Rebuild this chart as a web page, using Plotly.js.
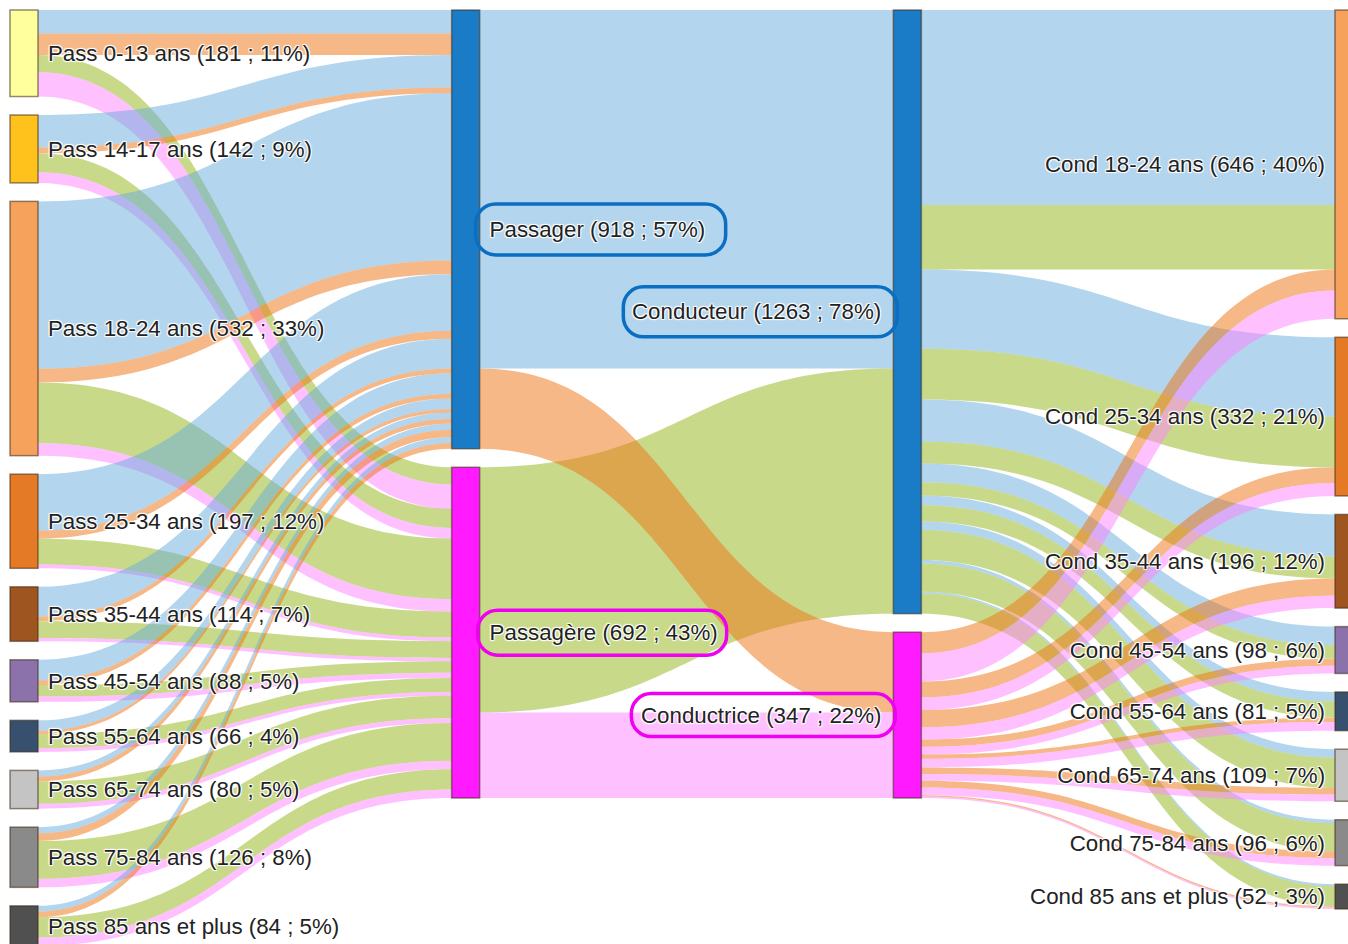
<!DOCTYPE html>
<html><head><meta charset="utf-8">
<script src="https://cdn.plot.ly/plotly-3.0.1.min.js"></script>
<style>html,body{margin:0;padding:0;overflow:hidden;background:#fff}</style>
</head><body><div id="chart" style="width:1373px;height:956px"></div>
<script>
// ---------- DATA ----------
const passLabels = ['Pass 0-13 ans','Pass 14-17 ans','Pass 18-24 ans','Pass 25-34 ans','Pass 35-44 ans','Pass 45-54 ans','Pass 55-64 ans','Pass 65-74 ans','Pass 75-84 ans','Pass 85 ans et plus'];
const passTotals = [181,142,532,197,114,88,66,80,126,84];
const sexLabels = ['Passager','Passagère'];
const sexTotals = [918,692];
const driverLabels = ['Conducteur','Conductrice'];
const driverTotals = [1263,347];
const condLabels = ['Cond 18-24 ans','Cond 25-34 ans','Cond 35-44 ans','Cond 45-54 ans','Cond 55-64 ans','Cond 65-74 ans','Cond 75-84 ans','Cond 85 ans et plus'];
const condTotals = [646,332,196,98,81,109,96,52];
const grandTotal = 1610;

// passenger age -> passenger sex, split by (passenger sex, driver sex)
const passH_condH = [49,68,350,118,62,43,22,13,13,12];   // Passager, Conducteur
const passH_condF = [45,12,29,17,10,10,7,10,16,12];      // Passager, Conductrice
const passF_condH = [36,40,127,54,35,24,29,47,79,42];    // Passagère, Conducteur
const passF_condF = [51,22,26,8,7,11,8,10,18,18];        // Passagère, Conductrice

// passenger sex -> driver sex : [H->H, F->H, H->F, F->F]
const midFlows = { HH: 750, FH: 513, HF: 168, FF: 179 };

// driver sex -> driver age
const condAge_passH_condH = [408,166,88,39,20,18,7,4];
const condAge_passF_condH = [135,106,46,28,34,63,59,42];
const condAge_passH_condF = [44,33,36,15,9,14,14,3];
const condAge_passF_condF = [59,27,26,16,18,14,16,3];

// ---------- STYLE ----------
const passColors = ['#ffff9e','#ffc21c','#f7a25c','#e57a26','#9e5520','#8c72ab','#36506e','#c4c4c4','#8a8a8a','#505050'];
const condColors = passColors.slice(2);
const blueNode = '#1a7cc6', pinkNode = '#ff1aff';
const cBlue = 'rgba(103,171,219,0.5)', cOrange = 'rgba(237,113,15,0.5)', cGreen = 'rgba(145,181,21,0.5)', cPink = 'rgba(255,129,255,0.5)';
const FONT = 'Liberation Sans, Arial, sans-serif', FS = 22.3;
const SH = '1px 1px 1px #fff, -1px -1px 1px #fff, 1px -1px 1px #fff, -1px 1px 1px #fff';

const W = 1353, H = 936, TH = 28, PAD = 18.5;
const ky = (H - (passTotals.length - 1) * PAD) / grandTotal;
function centers(vals) { let y = 0; return vals.map(v => { const h = v * ky; const c = y + h / 2; y += h + PAD; return c / H; }); }
function xc(col) { return (TH / 2 + col * (W - TH) / 3) / W; }
const pct = v => Math.round(v / grandTotal * 100) + '%';
const lab = (n, v) => n + ' (' + v + ' ; ' + pct(v) + ')';
const NB = '\u00a0';

const labels = [].concat(
  passLabels.map((n, i) => NB + lab(n, passTotals[i])),
  sexLabels.map((n, i) => NB + lab(n, sexTotals[i])),
  driverLabels.map(() => ''),
  condLabels.map((n, i) => lab(n, condTotals[i]) + NB));
const colors = [].concat(passColors, [blueNode, pinkNode, blueNode, pinkNode], condColors);
const nx = [].concat(passTotals.map(() => xc(0)), [xc(1), xc(1)], [xc(2), xc(2)], condTotals.map(() => xc(3)));
const ny = [].concat(centers(passTotals), centers(sexTotals), centers(driverTotals), centers(condTotals));

const src = [], tgt = [], val = [], lcol = [];
function add(s, t, v, c) { src.push(s); tgt.push(t); val.push(v); lcol.push(c); }
const P0 = 10, D0 = 12, C0 = 14;
passTotals.forEach((_, i) => {
  add(i, P0, passH_condH[i], cBlue);
  add(i, P0, passH_condF[i], cOrange);
  add(i, P0 + 1, passF_condH[i], cGreen);
  add(i, P0 + 1, passF_condF[i], cPink);
});
add(P0, D0, midFlows.HH, cBlue);
add(P0 + 1, D0, midFlows.FH, cGreen);
add(P0, D0 + 1, midFlows.HF, cOrange);
add(P0 + 1, D0 + 1, midFlows.FF, cPink);
condTotals.forEach((_, j) => {
  add(D0, C0 + j, condAge_passH_condH[j], cBlue);
  add(D0, C0 + j, condAge_passF_condH[j], cGreen);
});
condTotals.forEach((_, j) => {
  add(D0 + 1, C0 + j, condAge_passH_condF[j], cOrange);
  add(D0 + 1, C0 + j, condAge_passF_condF[j], cPink);
});

// rounded label boxes
function rr(x0, x1, y0, y1, r) {
  const k = r * 0.4477;
  return `M ${x0 + r},${y0} L ${x1 - r},${y0} C ${x1 - k},${y0} ${x1},${y0 + k} ${x1},${y0 + r} L ${x1},${y1 - r} C ${x1},${y1 - k} ${x1 - k},${y1} ${x1 - r},${y1} L ${x0 + r},${y1} C ${x0 + k},${y1} ${x0},${y1 - k} ${x0},${y1 - r} L ${x0},${y0 + r} C ${x0},${y0 + k} ${x0 + k},${y0} ${x0 + r},${y0} Z`;
}
function edge(i, side) { return side === 'right' ? nx[i] + TH / 2 / W : nx[i] - TH / 2 / W; }
function box(nodeIdx, side, dx0, dx1, hh, color) {
  return { type: 'path', xref: 'paper', yref: 'paper', xsizemode: 'pixel', ysizemode: 'pixel',
    xanchor: edge(nodeIdx, side), yanchor: 1 - ny[nodeIdx], path: rr(dx0, dx1, -hh, hh, 20),
    line: { color: color, width: 3.5 }, fillcolor: 'rgba(0,0,0,0)' };
}
const shapes = [
  box(10, 'right', -4, 246, 25.5, '#0a6fc2'),
  box(11, 'right', -2, 247, 22.5, '#f000f0'),
  box(12, 'left', -270, 4, 25, '#0a6fc2'),
  box(13, 'left', -262, 2, 21.5, '#f000f0')
];
const annotations = driverLabels.map((n, i) => ({
  xref: 'paper', yref: 'paper', x: edge(12 + i, 'left'), y: 1 - ny[12 + i],
  xanchor: 'right', yanchor: 'middle', xshift: -10, showarrow: false,
  text: lab(n, driverTotals[i]), font: { family: FONT, size: FS, color: '#222', shadow: SH }
}));

Plotly.newPlot('chart', [{
  type: 'sankey', arrangement: 'fixed', orientation: 'h',
  node: { label: labels, color: colors, x: nx, y: ny, pad: PAD, thickness: TH,
    line: { color: 'rgba(60,40,20,0.55)', width: 1.5 }, hoverinfo: 'none' },
  link: { source: src, target: tgt, value: val, color: lcol, hoverinfo: 'none' },
  textfont: { family: FONT, size: FS, color: '#222' }
}], {
  width: 1373, height: 956, margin: { l: 10, r: 10, t: 10, b: 10 },
  paper_bgcolor: '#fff', shapes: shapes, annotations: annotations, showlegend: false
}, { displayModeBar: false, staticPlot: true });
</script></body></html>
